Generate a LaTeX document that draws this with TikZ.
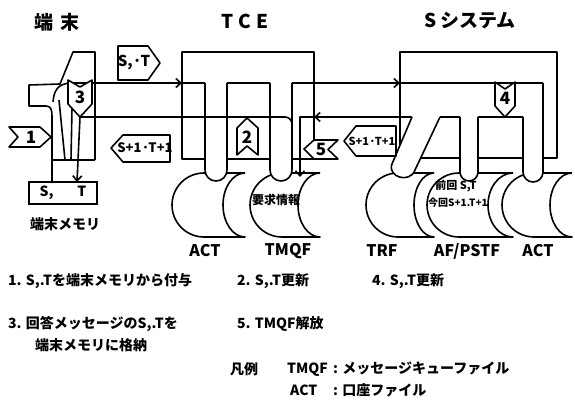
\documentclass[tikz,border=0pt]{standalone}
\usepackage{fontspec}
\newfontfamily\jpfont{Noto Sans CJK JP}
\usetikzlibrary{arrows.meta,positioning,calc}

% stored-data file: #1 = centre x, #2 = horn offset, #3 = depth of the concave side
\newcommand{\fileshape}[3]{%
  \draw[wire] (#1+#2,173) -- (#1,173) arc[start angle=270,end angle=90,radius=32]
    -- (#1+#2,237) arc[start angle=90,end angle=270,x radius=#3,y radius=32];}

\begin{document}
\begin{tikzpicture}[
  x=1pt, y=-1pt,
  every node/.style={font=\jpfont\bfseries\fontsize{14}{16}\selectfont, inner sep=0pt},
  wire/.style={line width=1.6pt, line join=round},
  arr/.style={wire, -{Straight Barb[length=5pt,width=9pt]}},
  pipe/.style={wire, fill=white},
  badge/.style={wire, fill=white},
  ttl/.style={font=\jpfont\bfseries\fontsize{19}{22}\selectfont},
  flabel/.style={font=\jpfont\bfseries\fontsize{16}{18}\selectfont},
  num/.style={font=\jpfont\bfseries\fontsize{17}{19}\selectfont},
  tag/.style={font=\jpfont\bfseries\fontsize{12}{14}\selectfont},
  note/.style={anchor=west},
]
\useasboundingbox (0,0) rectangle (575,409);

% Titles
\node[ttl] (tanmatsu) at (57,22) {端\hspace{7pt}末};
\node[ttl] (tce) at (245,21) {T\hspace{5pt}C\hspace{5pt}E};
\node[ttl] (ssys) at (470,21) {S\hspace{4pt}システム};

% System boxes
\draw[wire] (182,52) rectangle (314,159);
\draw[wire] (400,52) rectangle (557,158);

% Files
\fileshape{204}{41}{22}
\fileshape{282}{38}{22}
\fileshape{398}{36}{20}
\fileshape{459}{54}{25}
\fileshape{534}{38}{22}
\node[flabel] (actT) at (205,251) {ACT};
\node[flabel] (tmqf) at (288,251) {TMQF};
\node[flabel] (trf) at (382,251) {TRF};
\node[flabel] (afpstf) at (467,251) {AF/PSTF};
\node[flabel] (actS) at (538,251) {ACT};
\node[tag] (youkyu) at (276,200) {要求情報};
\node[font=\jpfont\bfseries\fontsize{11}{13}\selectfont] (zenkai) at (456,186) {前回 S,T};
\node[font=\jpfont\bfseries\fontsize{10}{12}\selectfont] (konkai) at (458,203) {今回S+1.T+1};

% Pipes dipping into the files
\draw[pipe] (205,83) -- (205,170) arc[start angle=180,end angle=0,radius=11] -- (227,83);
\draw[pipe] (270,83) -- (270,170) arc[start angle=180,end angle=0,radius=11] -- (292,83);
\draw[pipe] (412,117) -- (392,164) .. controls (387,177) and (410,184) .. (415,170) -- (440,117);
\draw[pipe] (460,117) -- (460,172) arc[start angle=180,end angle=0,radius=9] -- (478,117);
\draw[pipe] (523,117) -- (523,172) arc[start angle=180,end angle=0,radius=10] -- (543,83);

% Terminal
\draw[wire] (95,160) -- (95,52) -- (73,52) -- (60,84) -- (29,85) -- (29,106) -- (46,106)
  .. controls (51,106) and (52,110) .. (52,116) -- (52,183);
\draw[wire] (52,160) -- (95,160);
\draw[wire] (70,83) .. controls (58,84) and (54,90) .. (53,102);
\draw[wire] (59,100) -- (65,160);
\draw[wire] (72,108) -- (71,160);
\node[draw, line width=1.6pt, minimum width=68pt, minimum height=22pt] (mem) at (63,193) {S,\hspace{24pt}T};
\node (memlbl) at (65,224) {端末メモリ};

% Request path
\coordinate (tOut) at (70,83);
\coordinate (tceIn) at (182,83);
\coordinate (ssIn) at (400,83);
\draw[arr] (tOut) -- (tceIn);
\draw[wire] (tceIn) -- (205,83);
\draw[wire] (227,83) -- (270,83);
\draw[arr] (292,83) -- (ssIn);
\draw[wire] (ssIn) -- (543,83);

% Reply path
\coordinate (tceRet) at (314,117);
\coordinate (tmqfIn) at (300,177);
\coordinate (memIn) at (77,182);
\draw[wire] (523,117) -- (478,117);
\draw[wire] (460,117) -- (440,117);
\draw[arr] (412,117) -- (tceRet);
\draw[arr] (tceRet) -- (300,117) -- (tmqfIn);
\draw[wire, rounded corners=7pt] (292,140) |- (80,117);
\draw[arr] (80,117) -- (memIn);

% Step badges
\draw[badge] (9,127) -- (40,127) -- (51,137) -- (40,147) -- (9,147) -- (18,137) -- cycle;
\node[num] (b1) at (31,137) {1};
\draw[badge] (237,128) -- (247,118) -- (258,128) -- (258,155) -- (247,146) -- (237,155) -- cycle;
\node[num] (b2) at (247,137) {2};
\draw[badge] (68,80) -- (80,87) -- (92,80) -- (92,104) -- (80,117) -- (68,104) -- cycle;
\node[num] (b3) at (80,97) {3};
\draw[badge] (495,82) -- (505,89) -- (515,82) -- (515,106) -- (505,117) -- (495,106) -- cycle;
\node[num] (b4) at (505,98) {4};
\draw[badge] (304,149) -- (314,140) -- (338,140) -- (328,149.5) -- (338,159) -- (314,159) -- cycle;
\node[num] (b5) at (321,149) {5};

% Message badges
\draw[badge] (118,46) -- (148,46) -- (160,63) -- (148,80) -- (118,80) -- cycle;
\node[font=\jpfont\bfseries\fontsize{15}{17}\selectfont] (msgST) at (134,63) {S,·T};
\draw[badge] (111,148) -- (123,135) -- (170,135) -- (170,162) -- (123,162) -- cycle;
\node[font=\jpfont\bfseries\fontsize{13}{15}\selectfont] (msgL) at (145,148) {S+1·T+1};
\draw[badge] (344,141) -- (356,126) -- (396,126) -- (396,156) -- (356,156) -- cycle;
\node[font=\jpfont\bfseries\fontsize{11}{13}\selectfont] (msgR) at (372,141) {S+1·T+1};

% Notes
\node[note] (n1) at (8,281) {1. S,.Tを端末メモリから付与};
\node[note] (n2) at (237,281) {2. S,.T更新};
\node[note] (n4) at (372,281) {4. S,.T更新};
\node[note] (n3) at (8,324) {3. 回答メッセージのS,.Tを};
\node[note] (n3b) at (35,345) {端末メモリに格納};
\node[note] (n5) at (237,324) {5. TMQF解放};

% Legend
\node[note] (hanrei) at (230,369) {凡例};
\node[note] (lg1) at (287,369) {\makebox[46pt][l]{TMQF}: メッセージキューファイル};
\node[note] (lg2) at (290,390) {\makebox[43pt][l]{ACT}: 口座ファイル};

\end{tikzpicture}
\end{document}
